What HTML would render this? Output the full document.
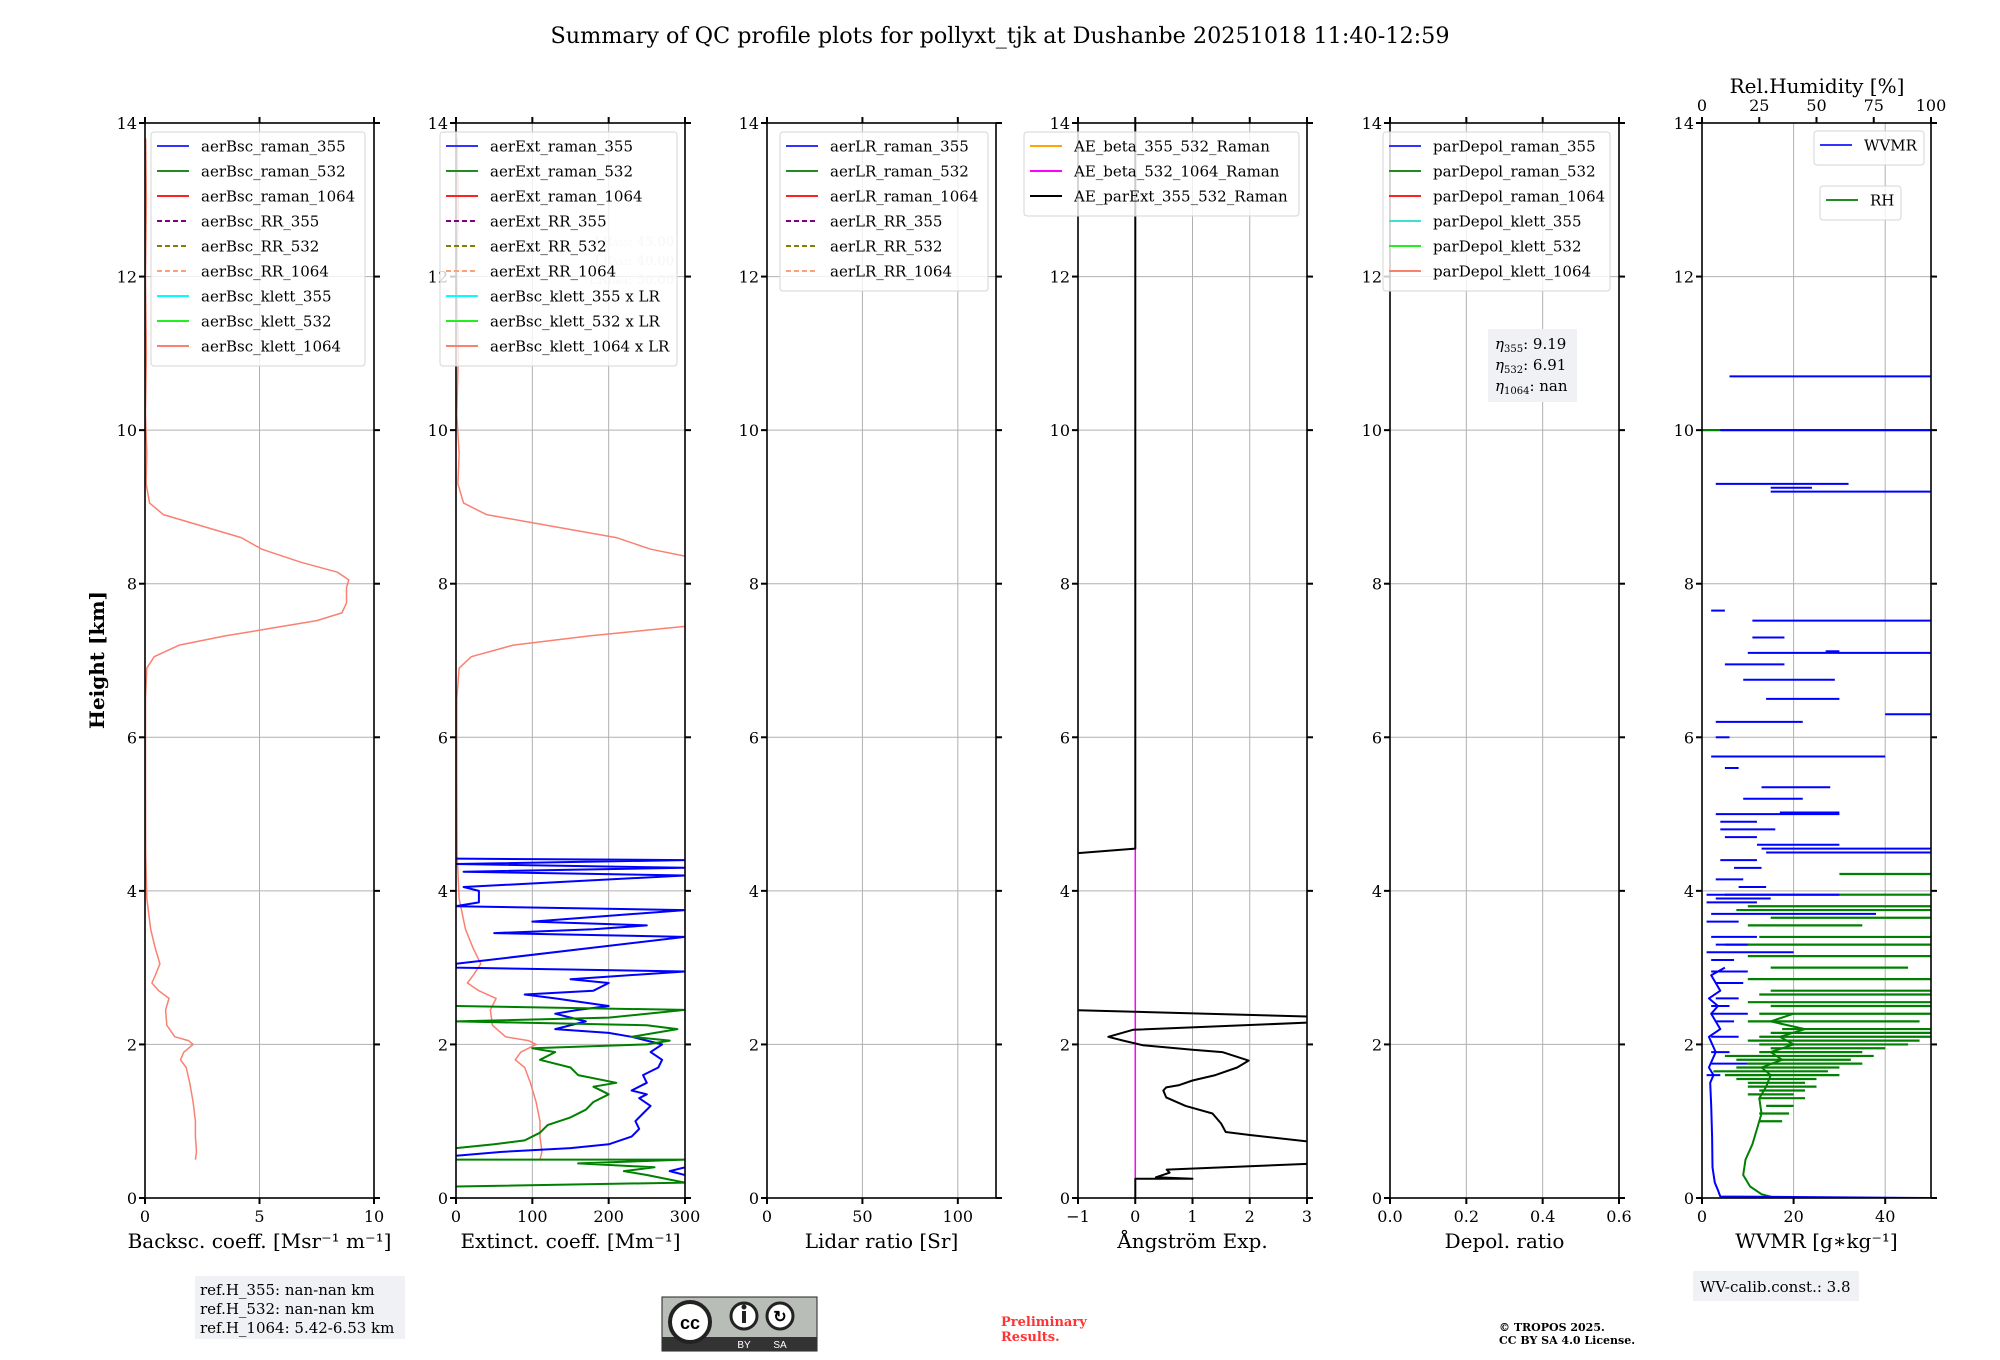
<!DOCTYPE html>
<html><head><meta charset="utf-8">
<style>
html,body{margin:0;padding:0;background:#fff;}
svg{display:block;font-family:"DejaVu Serif","Liberation Serif",serif;}
</style></head>
<body>
<svg id="fig" width="2000" height="1360" viewBox="0 0 2000 1360" xmlns="http://www.w3.org/2000/svg">
<text x="1000" y="43" font-size="22.3" text-anchor="middle">Summary of QC profile plots for pollyxt_tjk at Dushanbe 20251018 11:40-12:59</text>
<text transform="translate(104,660) rotate(-90)" font-size="20" font-weight="bold" text-anchor="middle">Height [km]</text>
<g>
<rect x="195" y="1276" width="210" height="63" fill="#f0f1f5"/>
<text x="200" y="1295" font-size="15">ref.H_355: nan-nan km</text>
<text x="200" y="1314" font-size="15">ref.H_532: nan-nan km</text>
<text x="200" y="1333" font-size="15">ref.H_1064: 5.42-6.53 km</text>
</g>
<g>
<rect x="662" y="1297" width="155" height="54" fill="#b9bdb8" stroke="#222" stroke-width="1"/>
<rect x="662" y="1337" width="155" height="14" fill="#333"/>
<circle cx="690" cy="1322" r="20" fill="#fff" stroke="#222" stroke-width="4"/>
<text x="690" y="1329" font-size="18" font-weight="bold" text-anchor="middle" font-family="Liberation Sans,sans-serif">cc</text>
<circle cx="744" cy="1316" r="13" fill="#fff" stroke="#222" stroke-width="3"/>
<rect x="742" y="1311" width="4" height="12" fill="#222"/><circle cx="744" cy="1307" r="2.5" fill="#222"/>
<circle cx="780" cy="1316" r="13" fill="#fff" stroke="#222" stroke-width="3"/>
<text x="780" y="1322" font-size="16" font-weight="bold" text-anchor="middle" font-family="Liberation Sans,sans-serif">↻</text>
<text x="744" y="1348" font-size="10" fill="#fff" text-anchor="middle" font-family="Liberation Sans,sans-serif">BY</text>
<text x="780" y="1348" font-size="10" fill="#fff" text-anchor="middle" font-family="Liberation Sans,sans-serif">SA</text>
</g>
<text x="1001" y="1326" font-size="13" font-weight="bold" fill="#ff3333">Preliminary</text>
<text x="1001" y="1341" font-size="13" font-weight="bold" fill="#ff3333">Results.</text>
<text x="1499" y="1331" font-size="11" font-weight="bold">© TROPOS 2025.</text>
<text x="1499" y="1344" font-size="11" font-weight="bold">CC BY SA 4.0 License.</text>
<g>
<rect x="1693" y="1271" width="166" height="30" fill="#f0f1f5"/>
<text x="1700" y="1292" font-size="15">WV-calib.const.: 3.8</text>
</g>
</svg>
<script>
// ---------------- data ----------------
const heightTicks = [0, 2, 4, 6, 8, 10, 12, 14];
const bscTicks = [0, 5, 10];
const extTicks = [0, 100, 200, 300];
const lrTicks = [0, 50, 100];
const aeTicks = [-1, 0, 1, 2, 3];
const depolTicks = [0.0, 0.2, 0.4, 0.6];
const depolTickLabels = ["0.0", "0.2", "0.4", "0.6"];
const wvmrTicks = [0, 20, 40];
const rhTicks = [0, 25, 50, 75, 100];
const lrKlett1064 = 50;
// backscatter klett 1064 [value, height km]
const bscKlett1064 = [[2.2,0.5],[2.25,0.6],[2.2,0.8],[2.2,1.0],[2.1,1.25],[1.95,1.5],[1.8,1.7],[1.55,1.8],[1.7,1.9],[2.1,2.0],[1.9,2.05],[1.3,2.1],[0.95,2.25],[0.9,2.45],[1.05,2.6],[0.6,2.7],[0.3,2.8],[0.45,2.9],[0.65,3.05],[0.45,3.25],[0.25,3.5],[0.08,3.9],[0.03,4.5],[0.02,5.5],[0.02,6.5],[0.08,6.9],[0.4,7.05],[1.5,7.2],[3.5,7.32],[5.5,7.42],[7.5,7.52],[8.6,7.62],[8.8,7.75],[8.8,7.95],[8.9,8.05],[8.4,8.15],[6.8,8.28],[5.1,8.45],[4.2,8.6],[2.5,8.75],[0.8,8.9],[0.2,9.05],[0.05,9.3],[0.08,9.7],[0.02,10.2],[0.06,11],[0.02,12],[0.06,13],[0.03,13.8]];
// extinction raman 355 [value, height], null = gap
const extRaman355 = [[300,0.3],[280,0.35],[300,0.4],null,[0,0.55],[60,0.6],[150,0.65],[200,0.7],[230,0.8],[240,0.9],[235,1.0],[245,1.1],[255,1.2],[240,1.3],[250,1.35],[230,1.4],[250,1.5],[245,1.6],[265,1.7],[270,1.8],[255,1.9],[270,2.0],[250,2.05],[230,2.1],[200,2.15],[130,2.2],[170,2.3],[130,2.4],[160,2.45],[200,2.5],[130,2.6],[90,2.65],[180,2.7],[200,2.8],[150,2.85],[300,2.95],[0,3.0],[0,3.05],[300,3.4],[50,3.45],[180,3.5],[250,3.55],[100,3.6],[300,3.75],[0,3.8],[30,3.85],[30,4.0],[10,4.05],[300,4.2],[10,4.25],[300,4.3],[0,4.35],[300,4.4],[0,4.42]];
const extRaman532 = [[0,0.15],[300,0.2],[250,0.3],[220,0.35],[260,0.4],[160,0.45],[300,0.5],[0,0.5],null,[0,0.65],[50,0.7],[90,0.75],[110,0.85],[120,0.95],[150,1.05],[170,1.15],[180,1.25],[200,1.35],[180,1.45],[210,1.5],[160,1.6],[150,1.7],[110,1.8],[130,1.9],[100,1.95],[250,2.0],[280,2.05],[230,2.1],[290,2.2],[250,2.25],[0,2.3],[200,2.35],[300,2.45],[0,2.5]];
// Angstrom exponent parExt 355/532 [value, height]
const aeParExt = [[0,0],[0,0.25],[1.0,0.25],[0.36,0.27],[0.6,0.33],[0.55,0.37],[3.2,0.45],null,[3.2,0.72],[2.0,0.82],[1.58,0.86],[1.5,0.97],[1.35,1.1],[0.88,1.2],[0.54,1.31],[0.49,1.4],[0.54,1.44],[0.77,1.47],[1.0,1.53],[1.4,1.6],[1.78,1.7],[1.98,1.79],[1.52,1.9],[1.0,1.93],[0.13,1.99],[-0.21,2.05],[-0.47,2.1],[-0.04,2.19],[3.2,2.29],null,[3.2,2.36],[-1.2,2.45],null,[-1.2,4.48],[0,4.55],[0,14]];
const aeBeta532_1064 = [[0,0.25],[0,4.55]];
// WVMR base profile [g/kg, height] and spikes [height, x1, x2]
const wvmrProfile = [[50,0.0],[4,0.02],[3.5,0.1],[2.8,0.2],[2.3,0.4],[2.2,0.8],[2.0,1.2],[1.8,1.5],[2.5,1.6],[1.5,1.7],[3,1.9],[1.5,2.1],[4,2.2],[2,2.4],[3.5,2.5],[1.5,2.6],[4,2.7],[2,2.9],[5,3.0]];
const wvmrSpikes = [[10.7,6,50],[10.0,4,50],[9.3,3,32],[9.2,15,50],[9.25,15,24],[7.65,2,5],[7.52,11,50],[7.3,11,18],[7.1,10,50],[7.12,27,30],[6.95,5,18],[6.75,9,29],[6.5,14,30],[6.3,40,50],[6.2,3,22],[6.0,3,6],[5.75,2,40],[5.6,5,8],[5.35,13,28],[5.2,9,22],[5.0,3,30],[5.02,17,30],[4.9,4,12],[4.8,4,16],[4.7,5,12],[4.6,12,30],[4.55,13,50],[4.5,14,50],[4.4,4,12],[4.3,7,13],[4.15,3,9],[4.05,8,14],[3.95,1,30],[3.9,3,15],[3.85,1,12],[3.7,2,38],[3.6,1,8],[3.4,2,12],[3.3,3,10],[3.2,1,20],[3.1,2,7],[2.95,2,10],[2.8,3,9],[2.6,3,8],[2.5,2,6],[2.4,2,10],[2.3,3,7],[2.1,2,8],[1.9,2,6],[1.75,2,10],[1.6,1,4]];
// RH profile [%, height] and spikes [height, rh1, rh2]
const rhProfile = [[32,0.0],[26,0.05],[21,0.15],[18,0.3],[19,0.5],[22,0.7],[24,0.9],[26,1.1],[25,1.3],[28,1.45],[30,1.6],[26,1.7],[35,1.8],[30,1.9],[40,2.0],[34,2.1],[45,2.2],[30,2.3],[40,2.4]];
const rhSpikes = [[10.0,0,100],[4.22,60,100],[3.95,10,100],[3.8,20,100],[3.75,15,100],[3.65,30,100],[3.55,20,70],[3.4,25,100],[3.3,10,100],[3.15,20,100],[3.0,30,90],[2.85,20,100],[2.7,30,100],[2.65,25,100],[2.55,20,100],[2.5,30,100],[2.4,25,100],[2.3,20,95],[2.2,35,100],[2.15,30,100],[2.1,25,100],[2.05,20,95],[2.0,25,90],[1.95,30,80],[1.9,25,70],[1.85,10,75],[1.8,15,65],[1.75,20,70],[1.7,15,60],[1.65,5,55],[1.6,10,60],[1.55,15,50],[1.5,20,45],[1.45,20,50],[1.4,25,45],[1.35,20,40],[1.3,25,45],[1.2,28,40],[1.1,25,38],[1.0,25,35]];
const etaLabels = ["9.19", "6.91", "nan"];

// ---------------- drawing ----------------
const NS = "http://www.w3.org/2000/svg";
const svg = document.getElementById("fig");
const TOP = 123, BOT = 1198, W = 229;
function yH(h){ return BOT - (h/14)*(BOT-TOP); }
function el(tag, parent){ const e = document.createElementNS(NS, tag); parent.appendChild(e); return e; }
function pathFrom(pts, xf){
  let d = "", pen = false;
  for (const p of pts){
    if (p === null){ pen = false; continue; }
    d += (pen ? "L" : "M") + xf(p[0]).toFixed(1) + "," + yH(p[1]).toFixed(1);
    pen = true;
  }
  return d;
}
const panels = [
  {left:145, min:0, max:10, ticks:bscTicks, labels:null, xlabel:"Backsc. coeff. [Msr⁻¹ m⁻¹]", name:"backscatter"},
  {left:456, min:0, max:300, ticks:extTicks, labels:null, xlabel:"Extinct. coeff. [Mm⁻¹]", name:"extinction"},
  {left:767, min:0, max:120, ticks:lrTicks, labels:null, xlabel:"Lidar ratio [Sr]", name:"lidar-ratio"},
  {left:1078, min:-1, max:3, ticks:aeTicks, labels:["−1","0","1","2","3"], xlabel:"Ångström Exp.", name:"angstrom"},
  {left:1390, min:0, max:0.6, ticks:depolTicks, labels:depolTickLabels, xlabel:"Depol. ratio", name:"depol"},
  {left:1702, min:0, max:50, ticks:wvmrTicks, labels:null, xlabel:"WVMR [g∗kg⁻¹]", name:"wvmr"}
];
panels.forEach((p, i) => {
  const g = el("g", svg);
  
  
  const xf = v => p.left + (v - p.min)/(p.max - p.min)*W;
  p.xf = xf; p.g = g;
  p.ticks.forEach(t => {
    if (t === p.min || t === p.max) return;
    const l = el("line", g);
    
    
    l.setAttribute("x1", xf(t)); l.setAttribute("x2", xf(t)); l.setAttribute("y1", TOP); l.setAttribute("y2", BOT);
    l.setAttribute("stroke", "#b0b0b0"); l.setAttribute("stroke-width", "1");
  });
  heightTicks.forEach(h => {
    if (h === 0 || h === 14) return;
    const l = el("line", g);
    
    
    l.setAttribute("x1", p.left); l.setAttribute("x2", p.left + W); l.setAttribute("y1", yH(h)); l.setAttribute("y2", yH(h));
    l.setAttribute("stroke", "#b0b0b0"); l.setAttribute("stroke-width", "1");
  });
  const cp = el("clipPath", g); cp.setAttribute("id", "clip" + i);
  const cr = el("rect", cp); cr.setAttribute("x", p.left); cr.setAttribute("y", TOP); cr.setAttribute("width", W); cr.setAttribute("height", BOT - TOP);
  const data = el("g", g); data.setAttribute("clip-path", "url(#clip" + i + ")");
  
  
  p.data = data;
  const fr = el("rect", g);
  
  
  fr.setAttribute("x", p.left); fr.setAttribute("y", TOP); fr.setAttribute("width", W); fr.setAttribute("height", BOT - TOP);
  fr.setAttribute("fill", "none"); fr.setAttribute("stroke", "#000"); fr.setAttribute("stroke-width", "1.6");
  heightTicks.forEach(h => {
    [[p.left - 6, p.left], [p.left + W, p.left + W + 6]].forEach(seg => {
      const t = el("line", g);
      
      
      t.setAttribute("x1", seg[0]); t.setAttribute("x2", seg[1]); t.setAttribute("y1", yH(h)); t.setAttribute("y2", yH(h));
      t.setAttribute("stroke", "#000"); t.setAttribute("stroke-width", "2");
    });
    const tl = el("text", g);
    
    
    tl.setAttribute("x", p.left - 8); tl.setAttribute("y", yH(h) + 6);
    tl.setAttribute("font-size", "16"); tl.setAttribute("text-anchor", "end");
    tl.textContent = String(h);
  });
  p.ticks.forEach((t, k) => {
    const segs = [[BOT, BOT + 6]];
    if (i !== 5) segs.push([TOP - 6, TOP]);
    segs.forEach(seg => {
      const tk = el("line", g);
      
      
      tk.setAttribute("x1", xf(t)); tk.setAttribute("x2", xf(t)); tk.setAttribute("y1", seg[0]); tk.setAttribute("y2", seg[1]);
      tk.setAttribute("stroke", "#000"); tk.setAttribute("stroke-width", "2");
    });
    const tl = el("text", g);
    
    
    tl.setAttribute("x", xf(t)); tl.setAttribute("y", BOT + 24);
    tl.setAttribute("font-size", "16"); tl.setAttribute("text-anchor", "middle");
    tl.textContent = p.labels ? p.labels[k] : String(t);
  });
  const xl = el("text", g);
  
  
  xl.setAttribute("x", p.left + W/2); xl.setAttribute("y", 1248);
  xl.setAttribute("font-size", "20"); xl.setAttribute("text-anchor", "middle");
  xl.textContent = p.xlabel;
});

function addLine(p, pts, color, width, xf, name){
  const path = el("path", p.data);
  
  
  path.setAttribute("d", pathFrom(pts, xf || p.xf));
  path.setAttribute("fill", "none"); path.setAttribute("stroke", color);
  path.setAttribute("stroke-width", width); path.setAttribute("stroke-linejoin", "round");
}
function addSpikes(p, spikes, color, width, xf, name){
  spikes.forEach(s => {
    const l = el("line", p.data);
    
    
    l.setAttribute("x1", xf(s[1])); l.setAttribute("x2", xf(s[2]));
    l.setAttribute("y1", yH(s[0])); l.setAttribute("y2", yH(s[0]));
    l.setAttribute("stroke", color); l.setAttribute("stroke-width", width);
  });
}
addLine(panels[0], bscKlett1064, "#fa8072", 1.5, null, "aerbsc-klett-1064-line");
addLine(panels[1], bscKlett1064.map(p => [p[0]*lrKlett1064, p[1]]), "#fa8072", 1.5, null, "aerbsc-klett-1064-x-lr-line");
addLine(panels[1], extRaman355, "#0000ff", 2, null, "aerext-raman-355-line");
addLine(panels[1], extRaman532, "#008000", 2, null, "aerext-raman-532-line");
addLine(panels[3], aeBeta532_1064, "#ff00ff", 1.5, null, "ae-beta-532-1064-line");
addLine(panels[3], aeParExt, "#000000", 2, null, "ae-parext-355-532-line");
const rhX = v => panels[5].left + v/100*W;
addLine(panels[5], rhProfile, "#008000", 2, rhX, "rh-line");
addSpikes(panels[5], rhSpikes, "#008000", 2.2, rhX, "rh-spike");
addLine(panels[5], wvmrProfile, "#0000ff", 2, null, "wvmr-line");
addSpikes(panels[5], wvmrSpikes, "#0000ff", 2, panels[5].xf, "wvmr-spike");

const gTop = el("g", svg);


rhTicks.forEach(t => {
  const tk = el("line", gTop);
  
  
  tk.setAttribute("x1", rhX(t)); tk.setAttribute("x2", rhX(t)); tk.setAttribute("y1", TOP - 6); tk.setAttribute("y2", TOP);
  tk.setAttribute("stroke", "#000"); tk.setAttribute("stroke-width", "2");
  const tl = el("text", gTop);
  
  
  tl.setAttribute("x", rhX(t)); tl.setAttribute("y", 111);
  tl.setAttribute("font-size", "16"); tl.setAttribute("text-anchor", "middle");
  tl.textContent = String(t);
});
const rhT = el("text", gTop);


rhT.setAttribute("x", 1817); rhT.setAttribute("y", 93); rhT.setAttribute("font-size", "20"); rhT.setAttribute("text-anchor", "middle");
rhT.textContent = "Rel.Humidity [%]";

["LR₃₅₅: 45.00", "LR₅₃₂: 40.00", "LR₁₀₆₄: 50.00"].forEach((s, k) => {
  const t = el("text", svg);
  
  
  t.setAttribute("x", 674); t.setAttribute("y", 246 + k*19); t.setAttribute("font-size", "13");
  t.setAttribute("text-anchor", "end"); t.setAttribute("fill", "#d0d0d0");
  t.textContent = s;
});

function legend(x, y, w, entries, name){
  const g = el("g", svg);
  
  
  const r = el("rect", g);
  r.setAttribute("x", x); r.setAttribute("y", y); r.setAttribute("width", w); r.setAttribute("height", entries.length*25 + 9);
  r.setAttribute("rx", 3); r.setAttribute("fill", "#fff"); r.setAttribute("fill-opacity", "0.8");
  r.setAttribute("stroke", "#d6d6d6");
  entries.forEach((e, k) => {
    const cy = y + 14 + k*25;
    const l = el("line", g);
    
    
    l.setAttribute("x1", x + 6); l.setAttribute("x2", x + 38); l.setAttribute("y1", cy); l.setAttribute("y2", cy);
    l.setAttribute("stroke", e[1]); l.setAttribute("stroke-width", "2");
    if (e[2]) l.setAttribute("stroke-dasharray", "5,3");
    const t = el("text", g);
    
    
    t.setAttribute("x", x + 50); t.setAttribute("y", cy + 5.5); t.setAttribute("font-size", "15");
    t.textContent = e[0];
  });
}
const C = {b:"#3333ff", g:"#228b22", r:"#ff2020", pu:"#800080", ol:"#808000", ls:"#ffa07a", cy:"#00ffff", li:"#22ee22", sa:"#fa8072"};
legend(151, 132, 214, [["aerBsc_raman_355",C.b],["aerBsc_raman_532",C.g],["aerBsc_raman_1064",C.r],["aerBsc_RR_355",C.pu,1],["aerBsc_RR_532",C.ol,1],["aerBsc_RR_1064",C.ls,1],["aerBsc_klett_355",C.cy],["aerBsc_klett_532",C.li],["aerBsc_klett_1064",C.sa]], "backscatter-legend");
legend(440, 132, 237, [["aerExt_raman_355",C.b],["aerExt_raman_532",C.g],["aerExt_raman_1064",C.r],["aerExt_RR_355",C.pu,1],["aerExt_RR_532",C.ol,1],["aerExt_RR_1064",C.ls,1],["aerBsc_klett_355 x LR",C.cy],["aerBsc_klett_532 x LR",C.li],["aerBsc_klett_1064 x LR",C.sa]], "extinction-legend");
legend(780, 132, 208, [["aerLR_raman_355",C.b],["aerLR_raman_532",C.g],["aerLR_raman_1064",C.r],["aerLR_RR_355",C.pu,1],["aerLR_RR_532",C.ol,1],["aerLR_RR_1064",C.ls,1]], "lidar-ratio-legend");
legend(1024, 132, 275, [["AE_beta_355_532_Raman","#ffa500"],["AE_beta_532_1064_Raman","#ff00ff"],["AE_parExt_355_532_Raman","#000"]], "angstrom-legend");
legend(1383, 132, 227, [["parDepol_raman_355",C.b],["parDepol_raman_532",C.g],["parDepol_raman_1064",C.r],["parDepol_klett_355","#40e0d0"],["parDepol_klett_532",C.li],["parDepol_klett_1064",C.sa]], "depol-legend");
legend(1814, 131, 110, [["WVMR",C.b]], "wvmr-legend");
legend(1820, 186, 81, [["RH",C.g]], "rh-legend");

const eg = el("g", svg);


const er = el("rect", eg);
er.setAttribute("x", 1488); er.setAttribute("y", 329); er.setAttribute("width", 89); er.setAttribute("height", 73); er.setAttribute("fill", "#f0f1f5");
["355", "532", "1064"].forEach((w, k) => {
  const t = el("text", eg);
  
  
  t.setAttribute("x", 1495); t.setAttribute("y", 349 + k*21); t.setAttribute("font-size", "15");
  t.innerHTML = '<tspan font-style="italic">η</tspan><tspan font-size="10" dy="3">' + w + '</tspan><tspan dy="-3">: ' + etaLabels[k] + '</tspan>';
});
</script>
</body></html>
